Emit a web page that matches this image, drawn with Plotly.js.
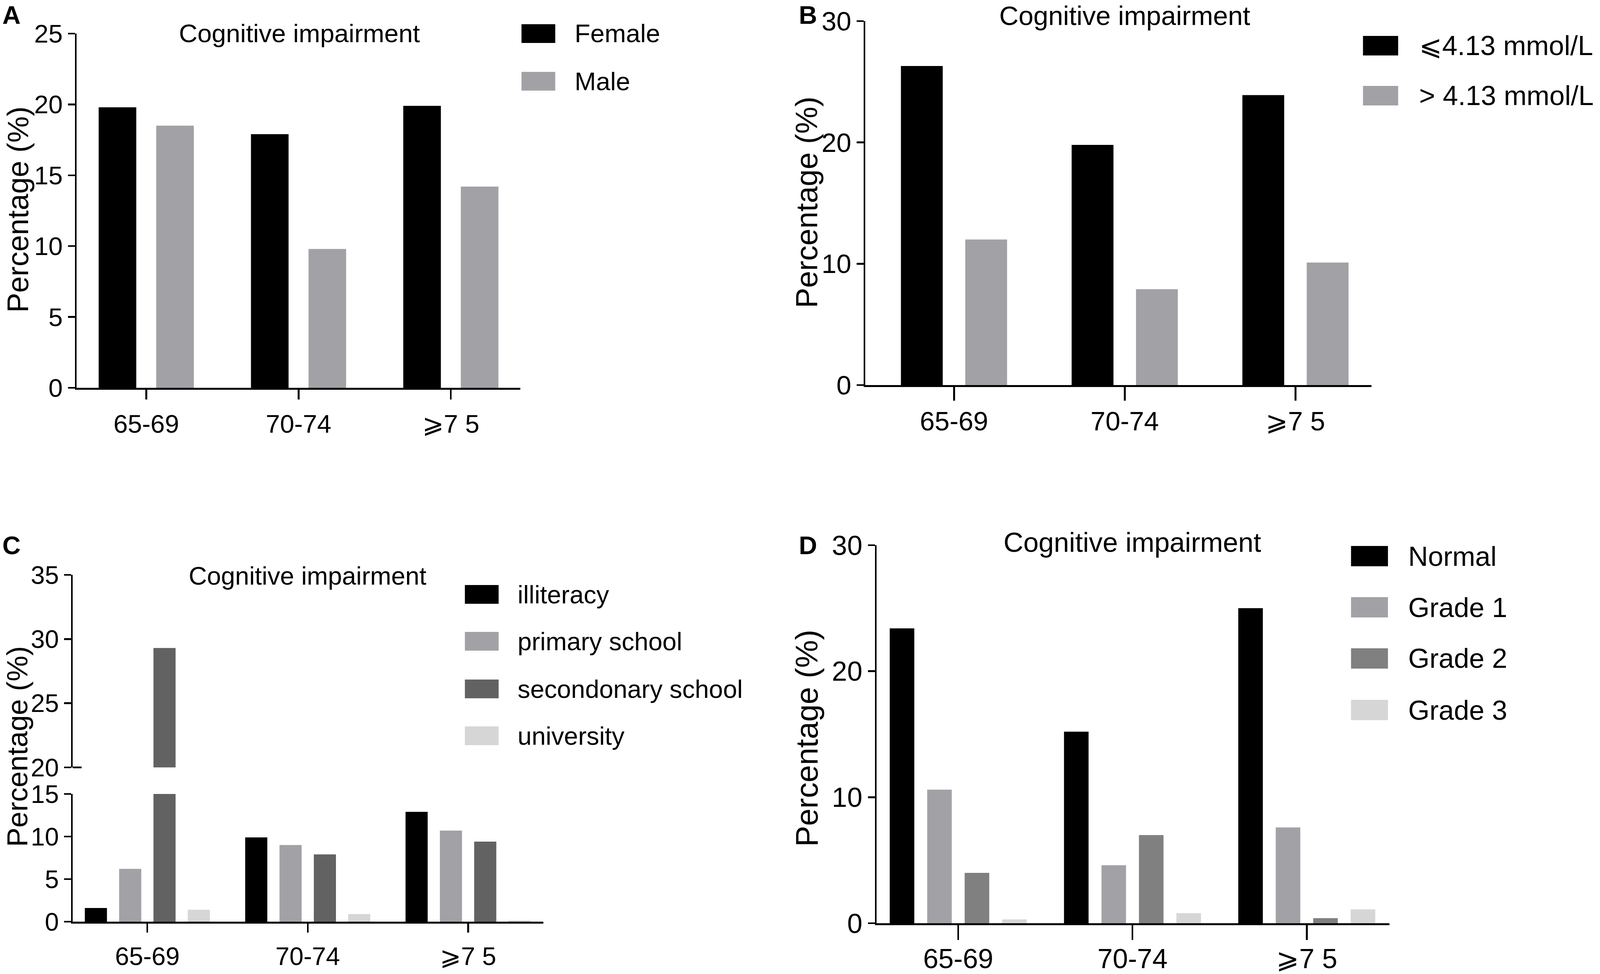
<!DOCTYPE html>
<html>
<head>
<meta charset="utf-8">
<script src="https://cdn.plot.ly/plotly-3.0.1.min.js"></script>
<style>
  html, body { margin: 0; padding: 0; background: #fff; overflow: hidden; }
  #chart { width: 100vw; height: 100vh; }
</style>
</head>
<body>
<div id="chart"></div>
<script>
'use strict';

// ---- data ----
const ageGroups = ['65-69', '70-74', '⩾7 5'];

const sexNames = ['Female', 'Male'];
const femaleVals = [19.8, 17.9, 19.9];
const maleVals = [18.5, 9.8, 14.2];

const glucoseNames = ['⩽4.13 mmol/L', '> 4.13 mmol/L'];
const glucoseLowVals = [26.3, 19.8, 23.9];
const glucoseHighVals = [12.0, 7.9, 10.1];

const eduNames = ['illiteracy', 'primary school', 'secondonary school', 'university'];
const illiteracyVals = [1.6, 9.9, 12.9];
const primaryVals = [6.2, 9.0, 10.7];
const secondaryVals = [29.3, 7.9, 9.4];
const universityVals = [1.4, 0.9, 0.15];

const gradeNames = ['Normal', 'Grade 1', 'Grade 2', 'Grade 3'];
const normalVals = [23.4, 15.2, 25.0];
const grade1Vals = [10.6, 4.6, 7.6];
const grade2Vals = [4.0, 7.0, 0.4];
const grade3Vals = [0.3, 0.8, 1.1];

const titleText = 'Cognitive impairment';
const yTitleText = 'Percentage (%)';

// ---- styling (positions measured on a 4550 x 2494 canvas, scaled to the viewport) ----
const REF_W = 4550, REF_H = 2494;
const W = window.innerWidth || REF_W, H = window.innerHeight || REF_H;
const kx = W / REF_W, ky = H / REF_H;
const px = v => v * kx;
const FONT = 'Arial, "Liberation Sans", sans-serif';
const BLACK = '#000000', GREY = '#a2a2a6', DARK = '#626262', MID = '#808080', LIGHT = '#d6d6d6';
const fx = p => p / REF_W;
const fy = p => 1 - p / REF_H;

function barTraces(series, names, colors, xa, ya, width, spacing) {
    const n = series.length;
    return series.map((vals, i) => ({
        type: 'bar', x: ageGroups, y: vals, xaxis: xa, yaxis: ya, name: names[i],
        width: width, offset: (i - (n - 1) / 2) * spacing - width / 2,
        marker: { color: colors[i], line: { width: 0 } },
        showlegend: false, hovertemplate: names[i] + ': %{y}<extra></extra>',
    }));
}

function xAxis(left, right, range, fs, ticklen, standoff, anchor) {
    return {
        domain: [fx(left), fx(right)], range, type: 'category', anchor,
        showline: true, linewidth: px(5), linecolor: BLACK,
        ticks: 'outside', ticklen: ticklen * ky, tickwidth: px(5), tickcolor: BLACK,
        tickfont: { family: FONT, size: px(fs), color: BLACK }, ticklabelstandoff: Math.round(standoff * ky),
        showgrid: false, zeroline: false, fixedrange: true,
    };
}

function yAxis(top, bottom, range, dtick, fs, anchor) {
    return {
        domain: [fy(bottom), fy(top)], range, dtick, tick0: 0, anchor,
        showline: true, linewidth: px(5), linecolor: BLACK,
        ticks: 'outside', ticklen: px(20), tickwidth: px(5), tickcolor: BLACK,
        tickfont: { family: FONT, size: px(fs), color: BLACK },
        showgrid: false, zeroline: false, fixedrange: true,
    };
}

const annotations = [];
const shapes = [];

function text(t, x, y, size, opts) {
    annotations.push(Object.assign({
        text: t, xref: 'paper', yref: 'paper', x: fx(x), y: fy(y),
        xanchor: 'center', yanchor: 'middle', showarrow: false,
        font: { family: FONT, size: px(size), color: BLACK },
    }, opts || {}));
}

// rotated axis title: its length runs vertically, so size it on the height
function yTitle(x, y, size, opts) {
    text(yTitleText, x, y, size, Object.assign({ textangle: -90,
        font: { family: FONT, size: size * ky, color: BLACK } }, opts || {}));
}

function legendBlock(names, colors, boxL, boxR, boxH, centers, textX, fs) {
    names.forEach((nm, i) => {
        shapes.push({
            type: 'rect', xref: 'paper', yref: 'paper', line: { width: 0 }, fillcolor: colors[i],
            x0: fx(boxL), x1: fx(boxR), y0: fy(centers[i] + boxH / 2), y1: fy(centers[i] - boxH / 2),
        });
        text(nm, textX, centers[i], fs, { xanchor: 'left' });
    });
}

// ---- panel A ----
const fsA = 73;
const tracesA = barTraces([femaleVals, maleVals], sexNames, [BLACK, GREY], 'x', 'y', 0.247, 0.378);
text('<b>A</b>', 4, 0, 72, { xanchor: 'left', yanchor: 'top' });
text(titleText, 852, 86, fsA);
yTitle(0, 537, fsA + 3, { xanchor: 'left' });
legendBlock(sexNames, [BLACK, GREY], 1483, 1579, 48, [86, 208], 1632, fsA);

// ---- panel B ----
const fsB = 76;
const tracesB = barTraces([glucoseLowVals, glucoseHighVals], glucoseNames, [BLACK, GREY], 'x2', 'y2', 0.245, 0.377);
text('<b>B</b>', 2269, 0, 72, { xanchor: 'left', yanchor: 'top' });
text(titleText, 3199, 0, fsB, { yanchor: 'top' });
yTitle(2294, 518, fsB + 2);
legendBlock(glucoseNames, [BLACK, GREY], 3876, 3976, 50, [117, 245], 4034, 78);

// ---- panel C (broken axis: 0-15 below, 20-35 above) ----
const fsC = 72;
const eduSeries = [illiteracyVals, primaryVals, secondaryVals, universityVals];
const eduColors = [BLACK, GREY, DARK, LIGHT];
const tracesC = barTraces(eduSeries, eduNames, eduColors, 'x3', 'y3', 0.138, 0.214)
    .concat(barTraces(eduSeries, eduNames, eduColors, 'x4', 'y4', 0.138, 0.214));
text('<b>C</b>', 4, 1396, 72, { xanchor: 'left' });
text(titleText, 875, 1474, fsC);
yTitle(0, 1912, fsC + 2, { xanchor: 'left' });
legendBlock(eduNames, eduColors, 1322, 1418, 48, [1522, 1642, 1764, 1884], 1470, fsC);
// break mark at 20 crosses the axis
shapes.push({ type: 'line', xref: 'paper', yref: 'paper', x0: fx(207), x1: fx(232),
    y0: fy(1965), y1: fy(1965), line: { color: BLACK, width: px(5) } });

// ---- panel D ----
const fsD = 78;
const gradeColors = [BLACK, GREY, MID, LIGHT];
const tracesD = barTraces([normalVals, grade1Vals, grade2Vals, grade3Vals], gradeNames, gradeColors, 'x5', 'y5', 0.141, 0.215);
text('<b>D</b>', 2269, 1396, 72, { xanchor: 'left' });
text(titleText, 3220, 1388, fsD);
yTitle(2294, 1890, fsD + 2);
legendBlock(gradeNames, gradeColors, 3842, 3947, 52, [1424, 1555, 1686, 1818], 4002, fsD);

const xTop = xAxis(207, 1545, [-0.465, 2.469], fsC, 0, 0, 'y4');
xTop.visible = false;

const layout = {
    width: W, height: H, margin: { l: 0, r: 0, t: 0, b: 0 },
    paper_bgcolor: '#ffffff', plot_bgcolor: 'rgba(0,0,0,0)',
    barmode: 'overlay', showlegend: false,
    font: { family: FONT, color: BLACK },
    xaxis: xAxis(218, 1480, [-0.457, 2.457], fsA, 25, 7, 'y'),
    yaxis: yAxis(86, 993, [0, 25], 5, fsA, 'x'),
    xaxis2: xAxis(2461, 3900, [-0.519, 2.445], fsB, 35, -6, 'y2'),
    yaxis2: yAxis(54, 986, [0, 30], 10, fsB, 'x2'),
    xaxis3: xAxis(207, 1545, [-0.465, 2.469], fsC, 23, 6, 'y3'),
    yaxis3: yAxis(2033, 2360, [0, 15], 5, fsC, 'x3'),
    xaxis4: xTop,
    yaxis4: yAxis(1472, 1965, [20, 35], 5, fsC, 'x4'),
    xaxis5: xAxis(2493, 3951, [-0.468, 2.474], fsD, 38, -12, 'y5'),
    yaxis5: yAxis(1396, 2364, [0, 30], 10, fsD, 'x5'),
    annotations, shapes,
};

Plotly.newPlot('chart', tracesA.concat(tracesB, tracesC, tracesD), layout,
    { staticPlot: true, displayModeBar: false });
</script>
</body>
</html>
